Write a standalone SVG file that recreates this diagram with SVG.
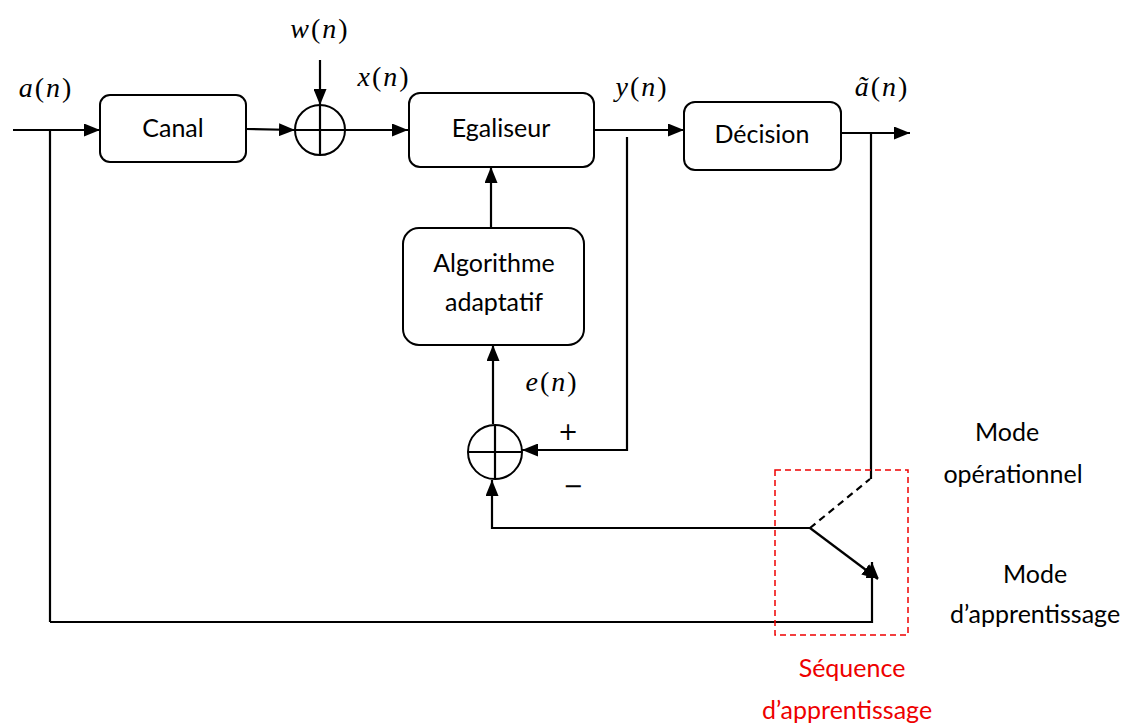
<svg xmlns="http://www.w3.org/2000/svg" width="1146" height="724" viewBox="0 0 1146 724">
<style>
.box{fill:#fff;stroke:#000;stroke-width:2}
.ln{fill:none;stroke:#000;stroke-width:2.2}
.t{font-family:Lato,"Liberation Sans",sans-serif;font-size:25px;fill:#000}
.pm{font-family:"DejaVu Sans",sans-serif;font-size:24px;fill:#000}
.m{font-family:"Liberation Serif",serif;font-style:italic;font-size:28px;letter-spacing:2px;fill:#000}
.m tspan.u{font-style:normal}
.r{font-family:Lato,"Liberation Sans",sans-serif;font-size:25px;fill:#e00}
</style>
<defs>
<marker id="ah" viewBox="0 0 16 13" refX="16" refY="6.5" markerWidth="16" markerHeight="13" markerUnits="userSpaceOnUse" orient="auto">
<path d="M0,0 L16,6.5 L0,13 Z" fill="#000"/>
</marker>
</defs>
<g id="connectors">
<line class="ln" x1="13" y1="130" x2="100" y2="130" marker-end="url(#ah)"/>
<line class="ln" x1="50" y1="130" x2="50" y2="622"/>
<line class="ln" x1="246" y1="129" x2="295" y2="130" marker-end="url(#ah)"/>
<line class="ln" x1="320" y1="60" x2="320" y2="105" marker-end="url(#ah)"/>
<line class="ln" x1="345" y1="130" x2="408" y2="130" marker-end="url(#ah)"/>
<line class="ln" x1="594" y1="130" x2="684" y2="130" marker-end="url(#ah)"/>
<line class="ln" x1="841" y1="133" x2="910" y2="133" marker-end="url(#ah)"/>
<line class="ln" x1="491" y1="228" x2="491" y2="167" marker-end="url(#ah)"/>
<line class="ln" x1="493" y1="424" x2="493" y2="345" marker-end="url(#ah)"/>
<polyline class="ln" points="627,137 627,450 522,450" marker-end="url(#ah)"/>
<polyline class="ln" points="810,528 492,528 492,480" marker-end="url(#ah)"/>
<line class="ln" x1="810" y1="528" x2="878" y2="579" marker-end="url(#ah)"/>
<line class="ln" x1="810" y1="528" x2="870" y2="479" stroke-dasharray="7,5"/>
<line class="ln" x1="871" y1="133" x2="871" y2="479"/>
<polyline class="ln" points="50,622 872,622 872,562" marker-end="url(#ah)"/>
</g>
<g id="canal">
<rect class="box" x="100" y="95" width="146" height="67" rx="10"/>
<text class="t" x="173" y="137" text-anchor="middle">Canal</text>
</g>
<g id="sum1">
<circle class="box" cx="320" cy="130" r="25"/>
<line class="ln" x1="295" y1="130" x2="345" y2="130"/>
<line class="ln" x1="320" y1="105" x2="320" y2="155"/>
</g>
<g id="egaliseur">
<rect class="box" x="409" y="93" width="185" height="74" rx="11"/>
<text class="t" x="501" y="137" text-anchor="middle">Egaliseur</text>
</g>
<g id="decision">
<rect class="box" x="684" y="102" width="157" height="68" rx="11"/>
<text class="t" x="762" y="143" text-anchor="middle">Décision</text>
</g>
<g id="algo">
<rect class="box" x="403" y="228" width="181" height="117" rx="16"/>
<text class="t" x="494" y="272" text-anchor="middle">Algorithme</text>
<text class="t" x="494" y="311" text-anchor="middle">adaptatif</text>
</g>
<g id="sum2">
<circle class="box" cx="495" cy="452" r="27"/>
<line class="ln" x1="468" y1="452" x2="522" y2="452"/>
<line class="ln" x1="495" y1="425" x2="495" y2="479"/>
</g>
<g id="switch-frame">
<rect x="775" y="470" width="133" height="165" fill="none" stroke="#e00" stroke-width="1.5" stroke-dasharray="6,4"/>
</g>
<g id="labels">
<text class="m" x="320" y="38" text-anchor="middle">w<tspan class="u">(</tspan>n<tspan class="u">)</tspan></text>
<text class="m" x="46" y="97" text-anchor="middle">a<tspan class="u">(</tspan>n<tspan class="u">)</tspan></text>
<text class="m" x="384" y="86" text-anchor="middle">x<tspan class="u">(</tspan>n<tspan class="u">)</tspan></text>
<text class="m" x="642" y="96" text-anchor="middle">y<tspan class="u">(</tspan>n<tspan class="u">)</tspan></text>
<text class="m" x="882" y="96" text-anchor="middle">ã<tspan class="u">(</tspan>n<tspan class="u">)</tspan></text>
<text class="m" x="552" y="391" text-anchor="middle">e<tspan class="u">(</tspan>n<tspan class="u">)</tspan></text>
<text class="pm" x="568" y="440" text-anchor="middle">+</text>
<text class="pm" x="573" y="494" text-anchor="middle">−</text>
<text class="t" x="1007" y="441" text-anchor="middle">Mode</text>
<text class="t" x="1013" y="483" text-anchor="middle">opérationnel</text>
<text class="t" x="1035" y="583" text-anchor="middle">Mode</text>
<text class="t" x="1035" y="623" text-anchor="middle">d’apprentissage</text>
<text class="r" x="852" y="677" text-anchor="middle">Séquence</text>
<text class="r" x="847" y="719" text-anchor="middle">d’apprentissage</text>
</g>
</svg>
